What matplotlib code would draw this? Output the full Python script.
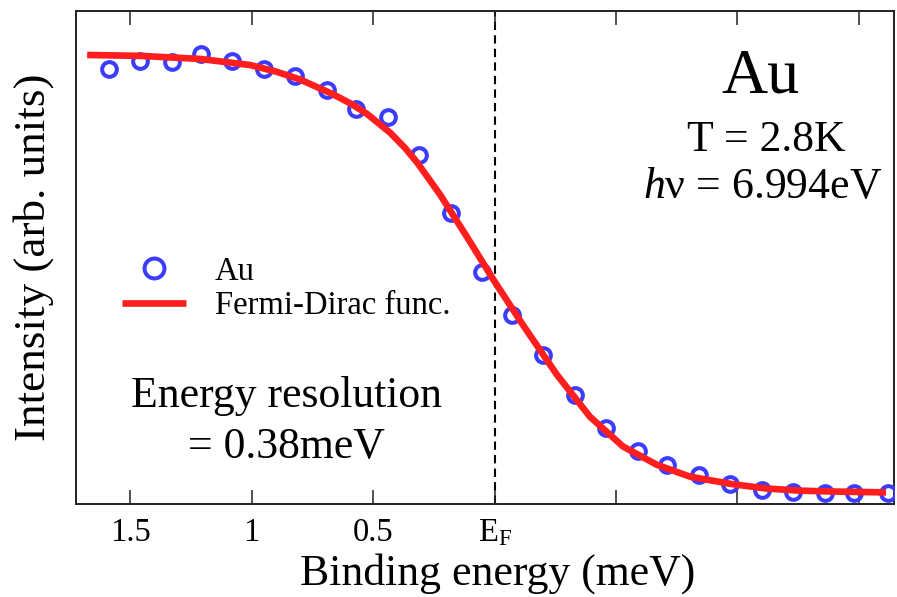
import matplotlib
matplotlib.use("Agg")
import matplotlib.pyplot as plt

# ---- data ----
binding_energy = [1.59, 1.46, 1.33, 1.21, 1.08, 0.95, 0.82, 0.69, 0.57, 0.44,
                  0.31, 0.18, 0.05, -0.07, -0.20, -0.33, -0.46, -0.59, -0.71,
                  -0.84, -0.97, -1.10, -1.23, -1.36, -1.48, -1.62]
intensity = [0.968, 0.986, 0.985, 1.002, 0.986, 0.967, 0.952, 0.920, 0.876, 0.857,
             0.772, 0.638, 0.504, 0.406, 0.314, 0.223, 0.146, 0.093, 0.061,
             0.038, 0.018, 0.005, 0.000, -0.002, -0.002, -0.003]

fit_energy = [1.678, 1.460, 1.213, 1.007, 0.900, 0.801, 0.665, 0.590, 0.525,
              0.430, 0.370, 0.319, 0.224, 0.113, 0.004, -0.117, -0.257, -0.393,
              -0.529, -0.669, -0.805, -0.978, -1.118, -1.258, -1.394, -1.612]
fit_intensity = [1.000, 0.998, 0.991, 0.977, 0.962, 0.944, 0.910, 0.888, 0.865,
                 0.822, 0.788, 0.754, 0.680, 0.583, 0.485, 0.382, 0.268, 0.172,
                 0.104, 0.062, 0.035, 0.018, 0.008, 0.003, 0.001, -0.001]

tick_positions = [1.5, 1.0, 0.5, 0.0, -0.5, -1.0, -1.5]
tick_labels = ["1.5", "1", "0.5", r"E$_\mathrm{F}$", "", "", ""]

# ---- style ----
plt.rcParams["font.family"] = ["Liberation Serif", "DejaVu Serif"]
plt.rcParams["mathtext.fontset"] = "custom"
plt.rcParams["mathtext.rm"] = "Liberation Serif"
plt.rcParams["mathtext.it"] = "Liberation Serif:italic"

blue = "#3c3cff"
red = "#ff1e1e"

fig = plt.figure(figsize=(8.97, 5.97), dpi=100)
ax = fig.add_axes([0.0847, 0.1558, 0.9120, 0.8258])

ax.axvline(0.0, color="black", lw=1.5, ls=(0, (4, 2.5)), zorder=1)
ax.plot(binding_energy, intensity, ls="none", marker="o", ms=10.6,
        mfc="none", mec=blue, mew=2.9, label="Au", zorder=3)
ax.plot(fit_energy, fit_intensity, color=red, lw=4.8, label="Fermi-Dirac func.",
        zorder=4, solid_capstyle="butt", solid_joinstyle="round")

ax.set_xlim(1.724, -1.645)
ax.set_ylim(-0.0275, 1.1007)

ax.set_xticks(tick_positions)
ax.set_xticklabels(tick_labels)
ax.tick_params(axis="x", direction="in", length=10, width=1.1, top=True,
               labelsize=23.5, pad=10, colors="#222222", labelcolor="black")
ax.set_yticks([])
for s in ax.spines.values():
    s.set_linewidth(1.4)
    s.set_color("#222222")

ax.set_xlabel("Binding energy (meV)", fontsize=31.5)
ax.xaxis.label.set_va("baseline")
ax.xaxis.set_label_coords(0.516, -0.164)
ax.set_ylabel("Intensity (arb. units)", fontsize=32.5)
ax.yaxis.label.set_va("center")
ax.yaxis.set_label_coords(-0.052, 0.5)

ax.text(0.837, 0.834, "Au", transform=ax.transAxes, ha="center",
        va="baseline", fontsize=46)
ax.text(0.844, 0.715, "T = 2.8K", transform=ax.transAxes, ha="center",
        va="baseline", fontsize=31.5)
ax.text(0.839, 0.620, r"$h$ν = 6.994eV", transform=ax.transAxes, ha="center",
        va="baseline", fontsize=31.5)
ax.text(0.257, 0.197, "Energy resolution", transform=ax.transAxes,
        ha="center", va="baseline", fontsize=31.5)
ax.text(0.257, 0.0933, "= 0.38meV", transform=ax.transAxes,
        ha="center", va="baseline", fontsize=31.5)

ax.legend(loc="center left", bbox_to_anchor=(0.0562, 0.437), frameon=False,
          fontsize=23.5, handlelength=1.95, handletextpad=0.9, labelspacing=0.12,
          borderpad=0, borderaxespad=0, markerscale=1.35)

fig.savefig("out.png", dpi=100)
